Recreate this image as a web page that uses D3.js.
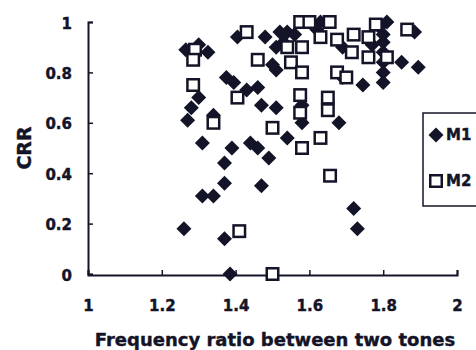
<!DOCTYPE html>
<html>
<head>
<meta charset="utf-8">
<script src="https://cdn.jsdelivr.net/npm/d3@7"></script>
<style>
  body { margin: 0; background: #fff; }
  svg { display: block; }
  text { font-family: "DejaVu Sans", sans-serif; font-weight: bold; fill: #141428; stroke: #141428; stroke-width: 0.4px; }
</style>
</head>
<body>
<div id="chart"></div>
<script>
// M1 (diamonds)
const m1Ratio = [1.26,1.31,1.31,1.34,1.39,1.37,1.37,1.46,1.49,1.47,1.37,1.385,1.54,1.72,1.73,
  1.265,1.30,1.325,1.30,1.28,1.27,1.34,1.375,1.395,1.405,1.48,1.43,1.46,1.47,1.51,1.44,
  1.52,1.54,1.53,1.51,1.51,1.50,1.58,1.58,1.68,1.69,1.69,1.63,1.56,1.62,
  1.81,1.885,1.85,1.895,1.745,1.80,1.80,1.80,1.80,1.80,1.80,1.79,1.77];
const m1Crr = [0.18,0.52,0.31,0.31,0.50,0.44,0.36,0.50,0.46,0.35,0.14,0.0,0.54,0.26,0.18,
  0.89,0.91,0.88,0.70,0.66,0.61,0.63,0.78,0.76,0.94,0.94,0.73,0.74,0.67,0.66,0.52,
  0.96,0.96,0.92,0.90,0.81,0.83,0.67,0.60,0.60,0.78,0.90,1.0,0.95,0.97,
  1.0,0.96,0.84,0.82,0.75,0.76,0.80,0.84,0.88,0.92,0.95,0.98,0.91];

// M2 (open squares)
const m2Ratio = [1.41,1.50,1.58,1.63,1.656,1.29,1.285,1.285,1.34,1.405,1.43,1.46,1.55,1.54,1.58,
  1.575,1.575,1.50,1.575,1.60,1.655,1.58,1.63,1.675,1.715,1.675,1.70,1.65,1.65,
  1.78,1.865,1.76,1.81,1.72,1.76];
const m2Crr = [0.17,0.0,0.50,0.54,0.39,0.89,0.85,0.75,0.60,0.70,0.96,0.85,0.84,0.90,0.80,
  0.71,0.64,0.58,1.0,1.0,1.0,0.90,0.94,0.93,0.88,0.80,0.78,0.70,0.65,
  0.99,0.97,0.86,0.86,0.95,0.94];

const xTicks = [1, 1.2, 1.4, 1.6, 1.8, 2];
const yTicks = [0, 0.2, 0.4, 0.6, 0.8, 1];
const seriesNames = ["M1", "M2"];

const width = 476, height = 350;
const ink = "#141428";

const svg = d3.select("#chart").append("svg")
  .attr("width", width)
  .attr("height", height);

const x = d3.scaleLinear().domain([1, 2]).range([88, 457]);
const y = d3.scaleLinear().domain([0, 1]).range([274, 22]);

// axes
const xAxis = d3.axisBottom(x).tickValues(xTicks).tickSize(-5).tickFormat(d3.format("~g"));
const yAxis = d3.axisLeft(y).tickValues(yTicks).tickSize(-5).tickFormat(d3.format("~g"));

const gx = svg.append("g").attr("transform", "translate(0,275)").call(xAxis);
const gy = svg.append("g").attr("transform", "translate(88,0)").call(yAxis);

[gx, gy].forEach(g => {
  g.select(".domain").attr("stroke", ink).attr("stroke-width", 2);
  g.selectAll(".tick line").attr("stroke", ink).attr("stroke-width", 1.5);
  g.selectAll(".tick text").attr("fill", ink).style("font-size", "15px");
});
gx.selectAll(".tick text").attr("y", 0).attr("dy", "2.4em");
gy.selectAll(".tick text").attr("x", -16).attr("dy", "0.4em");

// axis titles
svg.append("text")
  .attr("x", 275).attr("y", 346)
  .attr("text-anchor", "middle")
  .style("font-size", "18px")
  .text("Frequency ratio between two tones");

svg.append("text")
  .attr("transform", "translate(31,148) rotate(-90)")
  .attr("text-anchor", "middle")
  .style("font-size", "19px")
  .text("CRR");

// marks
const diamond = s => `M0,${-s}L${s},0L0,${s}L${-s},0Z`;

svg.append("g").selectAll("path")
  .data(d3.range(m1Ratio.length))
  .join("path")
  .attr("transform", i => `translate(${x(m1Ratio[i])},${y(m1Crr[i])})`)
  .attr("d", diamond(7.5))
  .attr("fill", ink);

svg.append("g").selectAll("rect")
  .data(d3.range(m2Ratio.length))
  .join("rect")
  .attr("x", i => x(m2Ratio[i]) - 5.75)
  .attr("y", i => y(m2Crr[i]) - 5.75)
  .attr("width", 11.5)
  .attr("height", 11.5)
  .attr("fill", "#fff")
  .attr("stroke", ink)
  .attr("stroke-width", 2.5);

// legend
const lg = svg.append("g");
lg.append("rect")
  .attr("x", 423).attr("y", 113)
  .attr("width", 70).attr("height", 93)
  .attr("fill", "#fff")
  .attr("stroke", ink)
  .attr("stroke-width", 1.5);

lg.append("path")
  .attr("transform", "translate(436,135)")
  .attr("d", diamond(7.5))
  .attr("fill", ink);
lg.append("rect")
  .attr("x", 430.25).attr("y", 175.25)
  .attr("width", 11.5).attr("height", 11.5)
  .attr("fill", "#fff")
  .attr("stroke", ink)
  .attr("stroke-width", 2.5);

lg.selectAll("text.lab")
  .data(seriesNames)
  .join("text")
  .attr("class", "lab")
  .attr("x", 446)
  .attr("y", (d, i) => 140 + i * 46)
  .style("font-size", "15px")
  .text(d => d);
</script>
</body>
</html>
